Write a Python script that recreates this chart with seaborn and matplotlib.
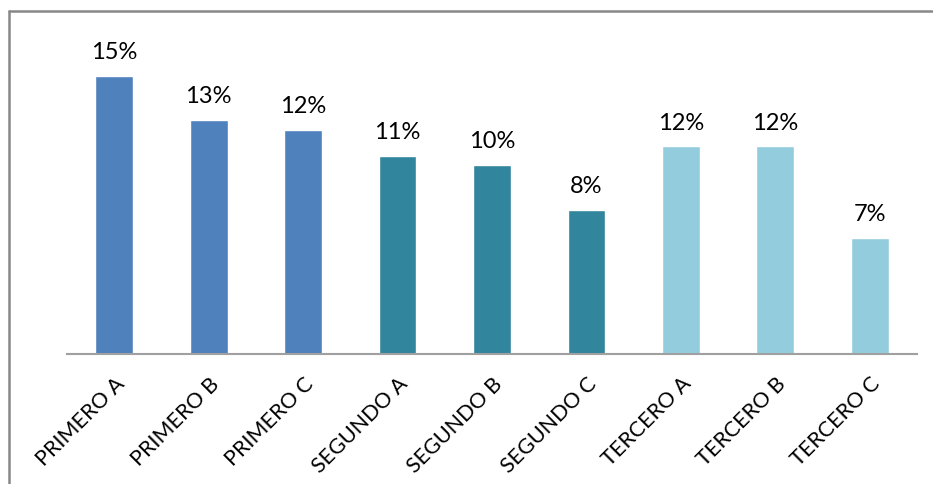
import matplotlib
matplotlib.use("Agg")
import matplotlib.pyplot as plt
import seaborn as sns
import pandas as pd
from matplotlib.lines import Line2D

categories = ["PRIMERO A", "PRIMERO B", "PRIMERO C", "SEGUNDO A", "SEGUNDO B",
              "SEGUNDO C", "TERCERO A", "TERCERO B", "TERCERO C"]
groups = ["PRIMERO", "PRIMERO", "PRIMERO", "SEGUNDO", "SEGUNDO", "SEGUNDO",
          "TERCERO", "TERCERO", "TERCERO"]
values = [14.9, 12.5, 12.0, 10.6, 10.1, 7.7, 11.1, 11.1, 6.2]
value_labels = ["15%", "13%", "12%", "11%", "10%", "8%", "12%", "12%", "7%"]
palette = {"PRIMERO": "#4F81BD", "SEGUNDO": "#31859C", "TERCERO": "#93CDDD"}

df = pd.DataFrame({"curso": categories, "grupo": groups, "valor": values})

sns.set_theme(style="white")
plt.rcParams["font.family"] = ["Lato", "DejaVu Sans"]

W, H = 933, 485
fig = plt.figure(figsize=(W / 100, H / 100), dpi=100)
ax = fig.add_axes([67 / W, (H - 354.5) / H, (917 - 67) / W, (354.5 - 56) / H])

sns.barplot(data=df, x="curso", y="valor", hue="grupo", palette=palette,
            dodge=False, width=0.4, legend=False, ax=ax, saturation=1)

ax.set_ylim(0, 16)
ax.set_xlim(-0.5, len(categories) - 0.5)
ax.set_xlabel("")
ax.set_ylabel("")
ax.set_yticks([])
for s in ["top", "right", "left"]:
    ax.spines[s].set_visible(False)
ax.spines["bottom"].set_color("#A0A0A0")
ax.spines["bottom"].set_linewidth(1.5)
ax.tick_params(axis="x", length=0, pad=14)

for i, (v, lab) in enumerate(zip(values, value_labels)):
    ax.annotate(lab, (i, v), xytext=(0, 10), textcoords="offset points",
                ha="center", va="bottom", fontsize=17, color="black")

ax.set_xticks(range(len(categories)))
ax.set_xticklabels(categories, rotation=45, ha="right", va="top",
                   rotation_mode="anchor", fontsize=15.5, color="black")

# outer frame (top and left edges)
fig.add_artist(Line2D([8.5 / W, 8.5 / W], [0, 1 - 11.5 / H], transform=fig.transFigure,
                      color="#888888", linewidth=1.8))
fig.add_artist(Line2D([8.5 / W, 1], [1 - 11.5 / H, 1 - 11.5 / H], transform=fig.transFigure,
                      color="#888888", linewidth=1.8))

fig.savefig("out.png", dpi=100, facecolor="white")
